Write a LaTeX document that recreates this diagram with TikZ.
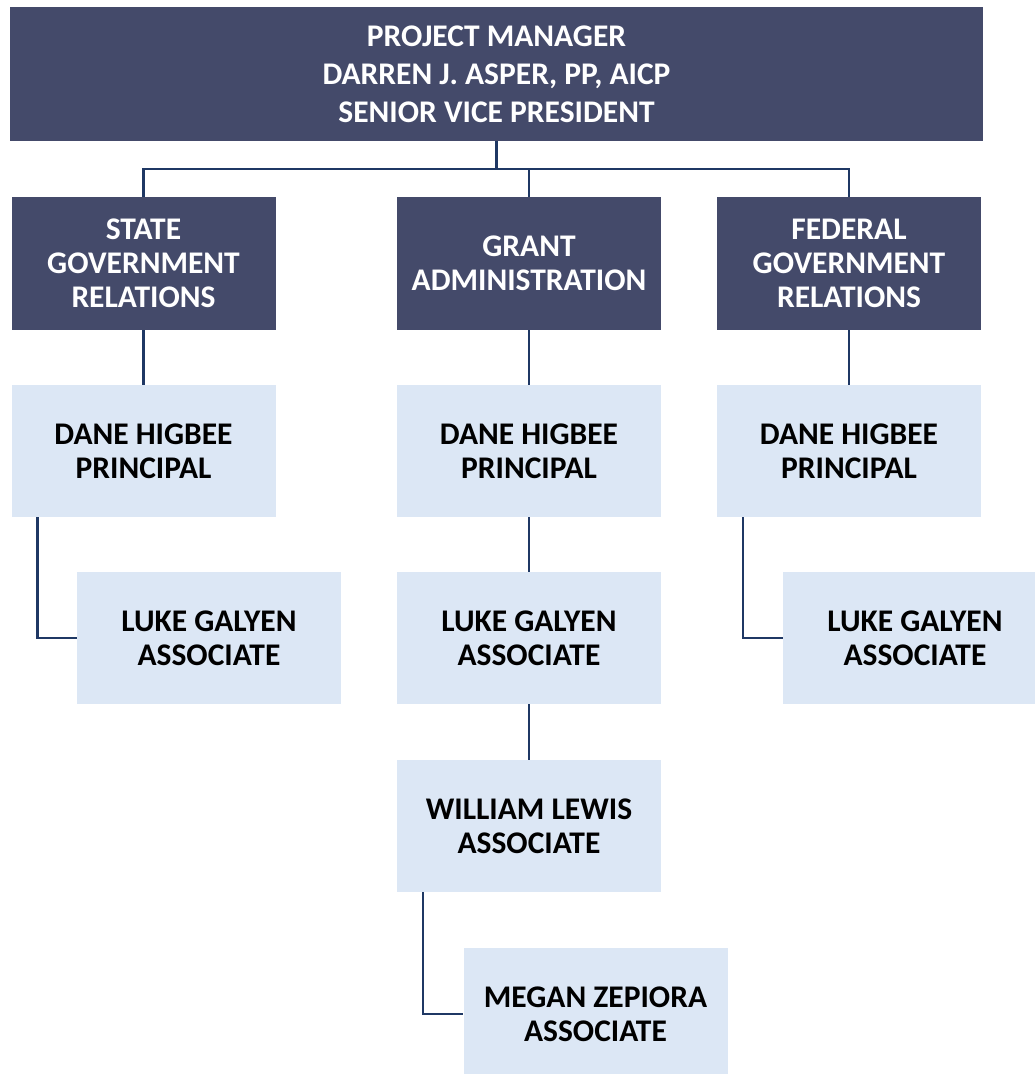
\documentclass[tikz,border=0pt]{standalone}
\usepackage{fontspec}
\setmainfont{Carlito}
\usetikzlibrary{positioning}
\definecolor{navybox}{HTML}{444A6A}
\definecolor{paleblue}{HTML}{DCE7F5}
\definecolor{linkblue}{HTML}{1F3864}
\tikzset{
  headbox/.style={fill=navybox, text=white, minimum width=264pt, minimum height=133pt, align=center, inner sep=0pt, font=\fontsize{31.5}{34}\selectfont\bfseries},
  staffbox/.style={fill=paleblue, text=black, minimum width=264pt, minimum height=132pt, align=center, inner sep=0pt, font=\fontsize{31.5}{34}\selectfont\bfseries},
  link/.style={draw=linkblue, line width=2.5pt}
}
\begin{document}
\begin{tikzpicture}[x=1pt,y=-1pt]
\useasboundingbox (0,0) rectangle (1034,1074);
% top
\node[headbox, minimum width=973pt, minimum height=134pt, font=\fontsize{31.5}{38}\selectfont\bfseries] (pm) at (496.5,74) {PROJECT MANAGER\\DARREN J. ASPER, PP, AICP\\SENIOR VICE PRESIDENT};
% departments
\node[headbox] (state) at (143.5,263.5) {STATE\\GOVERNMENT\\RELATIONS};
\node[headbox] (grant) at (529,263.5) {GRANT\\ADMINISTRATION};
\node[headbox] (fed) at (849,263.5) {FEDERAL\\GOVERNMENT\\RELATIONS};
% principals
\node[staffbox] (pstate) at (143.5,451) {DANE HIGBEE\\PRINCIPAL};
\node[staffbox] (pgrant) at (529,451) {DANE HIGBEE\\PRINCIPAL};
\node[staffbox] (pfed) at (849,451) {DANE HIGBEE\\PRINCIPAL};
% associates
\node[staffbox] (astate) at (209,638) {LUKE GALYEN\\ASSOCIATE};
\node[staffbox] (agrant) at (529,638) {LUKE GALYEN\\ASSOCIATE};
\node[staffbox] (afed) at (915,638) {LUKE GALYEN\\ASSOCIATE};
\node[staffbox] (william) at (529,826) {WILLIAM LEWIS\\ASSOCIATE};
\node[staffbox] (megan) at (595.5,1014) {MEGAN ZEPIORA\\ASSOCIATE};
% links
\draw[link] (pm.south) -- ++(0,28);
\draw[link] (state.north) -- ++(0,-28) -| (fed.north);
\draw[link] (grant.north) -- ++(0,-28);
\draw[link] (state) -- (pstate);
\draw[link] (grant) -- (pgrant);
\draw[link] (fed) -- (pfed);
\draw[link] ([xshift=26pt]pstate.south west) |- (astate.west);
\draw[link] (pgrant) -- (agrant);
\draw[link] (agrant) -- (william);
\draw[link] ([xshift=26pt]pfed.south west) |- (afed.west);
\draw[link] ([xshift=26pt]william.south west) |- (megan.west);
\end{tikzpicture}
\end{document}
